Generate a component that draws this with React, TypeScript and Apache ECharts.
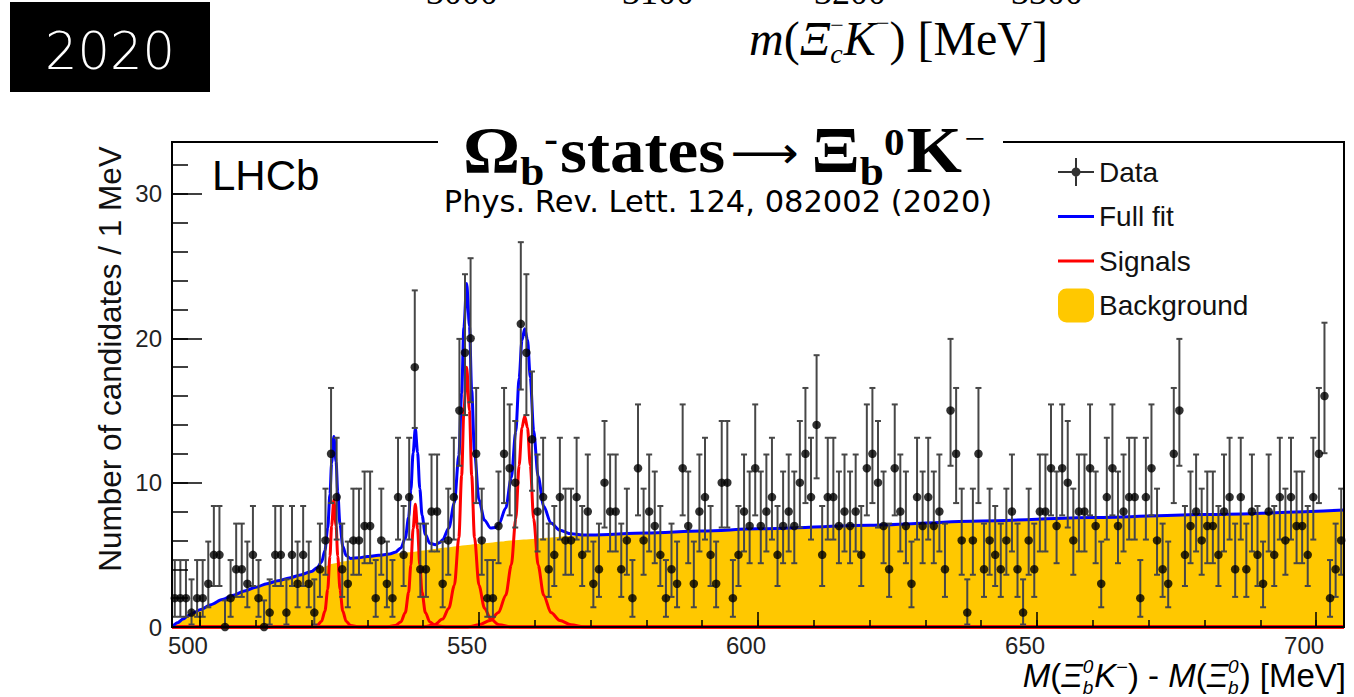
import React, { useEffect, useRef } from 'react';
import * as echarts from 'echarts';

// ---------------- data ----------------
const X_MIN = 495;
const X_MAX = 705;
const Y_MIN = 0;
const Y_MAX = 33.6;
const FIRST_BIN_CENTER = 495.5;
const BIN_WIDTH = 1;

// candidates per 1 MeV bin (bins 495-496 ... 704-705)
const COUNTS = [
  2, 2, 2, 1, 2, 2, 3, 5, 5, 0,
  2, 4, 4, 3, 5, 2, 0, 1, 5, 5,
  1, 5, 3, 5, 3, 1, 4, 6, 12, 9,
  4, 3, 6, 6, 7, 7, 2, 6, 3, 2,
  9, 5, 9, 18, 4, 4, 8, 8, 3, 6,
  9, 15, 19, 20, 12, 6, 2, 2, 7, 12,
  11, 10, 21, 19, 13, 8, 9, 4, 5, 9,
  6, 6, 9, 5, 8, 3, 4, 10, 8, 8,
  4, 6, 2, 11, 6, 8, 7, 5, 2, 4,
  3, 11, 7, 3, 8, 9, 5, 3, 10, 10,
  2, 5, 8, 7, 11, 7, 8, 9, 5, 7,
  8, 7, 10, 12, 9, 14, 5, 9, 9, 7,
  8, 7, 8, 5, 11, 12, 10, 7, 4, 11,
  8, 7, 3, 9, 7, 9, 7, 8, 4, 15,
  12, 6, 1, 6, 12, 4, 6, 5, 4, 6,
  8, 4, 1, 6, 4, 8, 8, 11, 7, 11,
  10, 6, 8, 8, 11, 7, 3, 9, 11, 7,
  8, 9, 9, 2, 9, 11, 6, 4, 3, 12,
  15, 5, 7, 8, 6, 7, 7, 5, 8, 9,
  4, 9, 4, 8, 5, 3, 8, 5, 9, 6,
  9, 7, 7, 5, 9, 12, 16, 2, 4, 6,
];

// 68% Poisson (Garwood) intervals for n = 0..21
const POISSON_LOW = [0, 0.173, 0.708, 1.367, 2.086, 2.84, 3.62, 4.419, 5.232, 6.057, 6.891, 7.734, 8.585, 9.441, 10.3, 11.17, 12.04, 12.92, 13.79, 14.68, 15.57, 16.45];
const POISSON_HIGH = [1.841, 3.3, 4.638, 5.918, 7.163, 8.382, 9.584, 10.77, 11.95, 13.11, 14.27, 15.42, 16.56, 17.7, 18.83, 19.96, 21.08, 22.2, 23.32, 24.44, 25.55, 26.66];

const BACKGROUND = [
  [495, 0], [496, 0.3], [497, 0.55], [498, 0.8], [499, 1.0], [500, 1.2], [502, 1.55], [504, 1.9],
  [506, 2.2], [508, 2.5], [510, 2.75], [512, 3.0], [514, 3.2], [516, 3.4], [518, 3.6], [520, 3.85],
  [522, 4.15], [524, 4.4], [526, 4.55], [528, 4.75], [530, 4.88], [532, 4.97], [534, 5.05], [536, 5.12],
  [538, 5.2], [540, 5.3], [542, 5.4], [544, 5.5], [546, 5.6], [548, 5.68], [550, 5.76], [552, 5.84],
  [554, 5.92], [556, 6.0], [558, 6.06], [560, 6.12], [562, 6.18], [564, 6.24], [566, 6.3], [570, 6.38],
  [580, 6.52], [590, 6.65], [600, 6.8], [620, 7.05], [640, 7.35], [660, 7.58], [680, 7.8], [705, 8.1],
];

const FULL_FIT = [
  [495, 0], [496, 0.3], [497, 0.55], [498, 0.8], [499, 1.0], [500, 1.2], [502, 1.55], [504, 1.9],
  [506, 2.2], [508, 2.5], [510, 2.75], [512, 3.0], [514, 3.2], [516, 3.4], [518, 3.6], [520, 3.85],
  [521, 4.1], [521.8, 4.5], [522.4, 5.3], [522.9, 6.85], [523.3, 9.2], [523.6, 11.35], [524.0, 13.2],
  [524.4, 11.45], [524.7, 9.35], [525.1, 7.1], [525.6, 5.6], [526.2, 4.95], [527, 4.75], [528.5, 4.8],
  [530, 4.88], [532, 4.97], [534, 5.05], [535, 5.18], [536, 5.47], [536.8, 6.15], [537.4, 7.6],
  [537.8, 9.5], [538.2, 12.05], [538.6, 13.75], [539.0, 12.1], [539.4, 9.6], [539.8, 7.75], [540.4, 6.4],
  [541.2, 5.8], [542.2, 5.7], [543, 5.85], [543.5, 6.05], [544.6, 6.85], [545.6, 8.6], [546.4, 11.9],
  [546.9, 16.2], [547.3, 20.75], [547.8, 23.8], [548.3, 20.85], [548.7, 16.4], [549.2, 12.15], [550.0, 8.8],
  [551.0, 7.4], [552.1, 6.85], [553.0, 6.9], [553.6, 7.15], [554.8, 8.25], [555.8, 10.35], [556.6, 13.55],
  [557.2, 17.25], [557.7, 19.85], [558.2, 20.67], [558.7, 19.9], [559.2, 17.3], [559.8, 13.6], [560.6, 10.44],
  [561.6, 8.37], [562.9, 7.2], [564.5, 6.7], [566.5, 6.46], [569, 6.37], [570, 6.38], [580, 6.52],
  [590, 6.65], [600, 6.8], [620, 7.05], [640, 7.35], [660, 7.58], [680, 7.8], [705, 8.1],
];

const SIGNAL_1 = [
  [495, 0], [519.5, 0], [521, 0.1], [521.8, 0.4], [522.4, 1.1], [522.9, 2.6], [523.3, 4.9], [523.6, 7.0],
  [524.0, 8.8], [524.4, 7.0], [524.7, 4.9], [525.1, 2.6], [525.6, 1.1], [526.2, 0.4], [527, 0.1], [528.5, 0], [705, 0],
];
const SIGNAL_2 = [
  [495, 0], [533.5, 0], [535, 0.1], [536, 0.35], [536.8, 1.0], [537.4, 2.4], [537.8, 4.3], [538.2, 6.8],
  [538.6, 8.5], [539.0, 6.8], [539.4, 4.3], [539.8, 2.4], [540.4, 1.0], [541.2, 0.35], [542.2, 0.1], [544, 0], [705, 0],
];
const SIGNAL_3 = [
  [495, 0], [540, 0], [542, 0.15], [543.5, 0.55], [544.6, 1.3], [545.6, 2.9], [546.4, 6.2], [546.9, 10.5],
  [547.3, 15.0], [547.8, 18.0], [548.3, 15.0], [548.7, 10.5], [549.2, 6.2], [550.0, 2.9], [551.0, 1.3],
  [552.1, 0.55], [553.6, 0.15], [556, 0], [705, 0],
];
const SIGNAL_4 = [
  [495, 0], [548, 0], [550, 0.15], [552, 0.45], [553.5, 1.0], [554.8, 2.2], [555.8, 4.3], [556.6, 7.5],
  [557.2, 11.2], [557.7, 13.8], [558.2, 14.6], [558.7, 13.8], [559.2, 11.2], [559.8, 7.5], [560.6, 4.3],
  [561.6, 2.2], [562.9, 1.0], [564.5, 0.45], [566.5, 0.15], [569, 0], [705, 0],
];
const SIGNALS = [SIGNAL_1, SIGNAL_2, SIGNAL_3, SIGNAL_4];

const X_LABELS = [500, 550, 600, 650, 700];
const X_MAJOR_TICKS = [500, 550, 600, 650, 700];
const X_MINOR_TICKS = [500, 510, 520, 530, 540, 550, 560, 570, 580, 590, 600, 610, 620, 630, 640, 650, 660, 670, 680, 690, 700];
const Y_LABELS = [0, 10, 20, 30];
const Y_MAJOR_TICKS = [0, 10, 20, 30];
const Y_MINOR_TICKS = [0, 2, 4, 6, 8, 10, 12, 14, 16, 18, 20, 22, 24, 26, 28, 30, 32];

const LEGEND_NAMES = ['Data', 'Full fit', 'Signals', 'Background'];
const TOP_AXIS_LABELS = ['3000', '3100', '3200', '3300'];

// ---------------- layout / style ----------------
const W = 1354;
const H = 697;
const GRID = { left: 172, top: 142, width: 1172, height: 485 };
const SANS = 'Liberation Sans';
const SERIF = 'Liberation Serif';
const YELLOW = '#FFC800';

type Frag = {
  t: string; size: number; family: string; weight?: string; italic?: boolean;
  dy?: number; dx?: number; stack?: boolean; color?: string;
};

let measureCtx: CanvasRenderingContext2D | null = null;
function fontOf(f: Frag) {
  return `${f.italic ? 'italic' : 'normal'} ${f.weight || 'normal'} ${f.size}px '${f.family}'`;
}
function richLine(
  frags: Frag[], anchorX: number, baseY: number, align: 'left' | 'center' | 'right', z: number, scaleX = 1,
) {
  if (!measureCtx) measureCtx = document.createElement('canvas').getContext('2d');
  const ctx = measureCtx!;
  let cursor = 0;
  let pending = 0;
  const items: { x: number; y: number; f: Frag }[] = [];
  for (const f of frags) {
    ctx.font = fontOf(f);
    const m = ctx.measureText(f.t);
    const asc = (m as any).fontBoundingBoxAscent ?? f.size * 0.9;
    const desc = (m as any).fontBoundingBoxDescent ?? f.size * 0.21;
    cursor += f.dx || 0;
    items.push({ x: cursor, y: baseY + (f.dy || 0) - (asc - desc) / 2, f });
    if (f.stack) pending = m.width;
    else { cursor += Math.max(m.width, pending); pending = 0; }
  }
  const total = cursor;
  const off = align === 'left' ? 0 : align === 'center' ? -total / 2 : -total;
  return {
    type: 'group', x: anchorX, y: 0, scaleX, z, silent: true,
    children: items.map((it) => ({
      type: 'text', x: off + it.x, y: it.y, z, silent: true,
      style: {
        text: it.f.t, font: fontOf(it.f), fill: it.f.color || '#000',
        textAlign: 'left', textVerticalAlign: 'middle', align: 'left', verticalAlign: 'middle',
      },
    })),
  };
}

const DATA_ICON = 'path://M0,0h0.05v0.05h-0.05z M35.95,33.95h0.05v0.05h-0.05z M0,16h36v2h-36z M17,3h2v28h-2z M13.5,17a4.5,4.5 0 1,1 9,0a4.5,4.5 0 1,1 -9,0z';
const LINE_ICON = 'path://M0,0h0.05v0.05h-0.05z M35.95,33.95h0.05v0.05h-0.05z M0,15.5h36v3h-36z';

function buildOption() {
  const dataPoints = COUNTS.map((c, i) => [FIRST_BIN_CENTER + i * BIN_WIDTH, c]);
  const errBars = COUNTS.map((c, i) => [FIRST_BIN_CENTER + i * BIN_WIDTH, POISSON_LOW[c], POISSON_HIGH[c]]);

  const titleFrags: Frag[] = [
    { t: 'Ω', size: 66, family: SERIF, weight: 'bold' },
    { t: 'b', size: 40, family: SERIF, weight: 'bold', dy: 13 },
    { t: '-', size: 38, family: SERIF, weight: 'bold', dy: -20 },
    { t: 'states', size: 64, family: SERIF, weight: 'bold', dx: 2 },
    { t: '⟶', size: 44, family: 'DejaVu Sans', dx: 5, dy: -4 },
    { t: 'Ξ', size: 66, family: SERIF, weight: 'bold', dx: 12 },
    { t: 'b', size: 40, family: SERIF, weight: 'bold', dy: 13 },
    { t: '0', size: 38, family: SERIF, weight: 'bold', dy: -16 },
    { t: 'K', size: 66, family: SERIF, weight: 'bold', dx: 2 },
    { t: '−', size: 34, family: SERIF, dy: -22, dx: 2 },
  ];
  const xTitle: Frag[] = [
    { t: 'M', size: 33, family: SANS, italic: true },
    { t: '(', size: 33, family: SANS },
    { t: 'Ξ', size: 33, family: SANS, italic: true },
    { t: '0', size: 19, family: SANS, italic: true, dy: -14, stack: true },
    { t: 'b', size: 19, family: SANS, italic: true, dy: 7 },
    { t: 'K', size: 33, family: SANS, italic: true, dx: 1 },
    { t: '−', size: 20, family: SANS, dy: -13 },
    { t: ') - ', size: 33, family: SANS },
    { t: 'M', size: 33, family: SANS, italic: true },
    { t: '(', size: 33, family: SANS },
    { t: 'Ξ', size: 33, family: SANS, italic: true },
    { t: '0', size: 19, family: SANS, italic: true, dy: -14, stack: true },
    { t: 'b', size: 19, family: SANS, italic: true, dy: 7 },
    { t: ') [MeV]', size: 33, family: SANS, dx: 1 },
  ];
  const topTitle: Frag[] = [
    { t: 'm', size: 48, family: SERIF, italic: true },
    { t: '(', size: 48, family: SERIF },
    { t: 'Ξ', size: 48, family: SERIF, italic: true },
    { t: '−', size: 24, family: SERIF, dy: -22, stack: true },
    { t: 'c', size: 28, family: SERIF, italic: true, dy: 8 },
    { t: 'K', size: 48, family: SERIF, italic: true },
    { t: '−', size: 24, family: SERIF, dy: -24 },
    { t: ') [MeV]', size: 48, family: SERIF },
  ];

  const graphic: any[] = [
    // frame
    {
      type: 'rect', z: 50, silent: true,
      shape: { x: GRID.left, y: GRID.top, width: GRID.width, height: GRID.height },
      style: { fill: 'none', stroke: '#000', lineWidth: 2 },
    },
    // white box behind the title
    { type: 'rect', z: 60, silent: true, shape: { x: 438, y: 128, width: 565, height: 28 }, style: { fill: '#fff' } },
    richLine(titleFrags, 724, 172, 'center', 61, 1.08),
    richLine([{ t: 'Phys. Rev. Lett. 124, 082002 (2020)', size: 30.5, family: 'DejaVu Sans' }], 718, 212, 'center', 61),
    richLine([{ t: 'LHCb', size: 42, family: SANS }], 212, 190, 'left', 61),
    richLine(xTitle, 1346, 687, 'right', 61),
    {
      type: 'text', z: 61, silent: true, x: 110, y: 359, rotation: Math.PI / 2,
      style: {
        text: 'Number of candidates / 1 MeV', font: `normal normal 31.5px '${SANS}'`, fill: '#111',
        textAlign: 'center', textVerticalAlign: 'middle', align: 'center', verticalAlign: 'middle',
      },
    },
    // year tag
    { type: 'rect', z: 61, silent: true, shape: { x: 10, y: 2, width: 200, height: 90 }, style: { fill: '#000' } },
    {
      type: 'text', z: 62, silent: true, x: 110, y: 51,
      style: {
        text: '2020', font: `normal 200 51px 'DejaVu Sans'`, fill: '#fff',
        textAlign: 'center', textVerticalAlign: 'middle', align: 'center', verticalAlign: 'middle',
      },
    },
    // cut-off neighbouring plot at the top
    richLine(topTitle, 749, 55, 'left', 61),
    ...TOP_AXIS_LABELS.map((t, i) =>
      richLine([{ t, size: 36, family: SERIF }], [462, 658, 850, 1047][i], 4, 'center', 61)),
  ];

  const signalSeries = SIGNALS.map((s) => ({
    name: 'Signals', type: 'line', data: s, showSymbol: false, symbol: 'none',
    smooth: 0.3, smoothMonotone: 'x', clip: false, z: 3,
    color: '#FF0000', lineStyle: { color: '#FF0000', width: 3 },
  }));

  return {
    animation: false,
    backgroundColor: '#fff',
    grid: { left: GRID.left, top: GRID.top, width: GRID.width, height: GRID.height, containLabel: false },
    legend: {
      orient: 'vertical', left: 1058, top: 155, padding: 0,
      itemWidth: 36, itemHeight: 34, itemGap: 10.5,
      selectedMode: false,
      itemStyle: { borderWidth: 0 },
      textStyle: { fontFamily: SANS, fontSize: 28, color: '#111' },
      data: [
        { name: LEGEND_NAMES[0], icon: DATA_ICON },
        { name: LEGEND_NAMES[1], icon: LINE_ICON },
        { name: LEGEND_NAMES[2], icon: LINE_ICON },
        { name: LEGEND_NAMES[3], icon: 'roundRect' },
      ],
    },
    xAxis: [
      {
        type: 'value', min: X_MIN, max: X_MAX, position: 'bottom', z: 10,
        axisLine: { show: true, onZero: false, lineStyle: { color: '#000', width: 2 } },
        axisTick: { show: true, inside: true, length: 15, customValues: X_MAJOR_TICKS, lineStyle: { color: '#000', width: 1.5 } },
        axisLabel: {
          show: true, customValues: X_LABELS, fontFamily: SANS, fontSize: 24, color: '#222',
          margin: 6, padding: [0, 24, 0, 0],
        },
        splitLine: { show: false },
      },
      {
        type: 'value', min: X_MIN, max: X_MAX, position: 'bottom', z: 10,
        axisLine: { show: false, onZero: false },
        axisTick: { show: true, inside: true, length: 7, customValues: X_MINOR_TICKS, lineStyle: { color: '#000', width: 1.5 } },
        axisLabel: { show: false },
        splitLine: { show: false },
      },
    ],
    yAxis: [
      {
        type: 'value', min: Y_MIN, max: Y_MAX, position: 'left', z: 10,
        axisLine: { show: true, onZero: false, lineStyle: { color: '#000', width: 2 } },
        axisTick: { show: true, inside: true, length: 30, customValues: Y_MAJOR_TICKS, lineStyle: { color: '#000', width: 1.5 } },
        axisLabel: { show: true, customValues: Y_LABELS, fontFamily: SANS, fontSize: 24, color: '#222', margin: 10 },
        splitLine: { show: false },
      },
      {
        type: 'value', min: Y_MIN, max: Y_MAX, position: 'left', z: 10,
        axisLine: { show: false, onZero: false },
        axisTick: { show: true, inside: true, length: 16, customValues: Y_MINOR_TICKS, lineStyle: { color: '#000', width: 1.5 } },
        axisLabel: { show: false },
        splitLine: { show: false },
      },
    ],
    series: [
      {
        name: 'Background', type: 'line', data: BACKGROUND, showSymbol: false, symbol: 'none',
        smooth: 0.3, smoothMonotone: 'x', z: 1, color: YELLOW,
        lineStyle: { width: 0, color: YELLOW }, areaStyle: { color: YELLOW, opacity: 1 },
      },
      ...signalSeries,
      {
        name: 'Full fit', type: 'line', data: FULL_FIT, showSymbol: false, symbol: 'none',
        smooth: 0.3, smoothMonotone: 'x', z: 4, color: '#0000FF',
        lineStyle: { color: '#0000FF', width: 3 },
      },
      {
        name: 'Data errors', type: 'custom', z: 5, data: errBars,
        encode: { x: 0, y: [1, 2] },
        renderItem: (_params: any, api: any) => {
          const x = api.value(0);
          const lo = api.coord([x, api.value(1)]);
          const hi = api.coord([x, api.value(2)]);
          const cap = 3;
          const style = { stroke: '#474747', lineWidth: 2 };
          return {
            type: 'group',
            children: [
              { type: 'line', shape: { x1: lo[0], y1: lo[1], x2: hi[0], y2: hi[1] }, style },
              { type: 'line', shape: { x1: hi[0] - cap, y1: hi[1], x2: hi[0] + cap, y2: hi[1] }, style },
              { type: 'line', shape: { x1: lo[0] - cap, y1: lo[1], x2: lo[0] + cap, y2: lo[1] }, style },
            ],
          };
        },
      },
      {
        name: 'Data', type: 'scatter', data: dataPoints, symbol: 'circle', symbolSize: 8.5, z: 6,
        color: '#000', itemStyle: { color: '#000' }, clip: false,
      },
    ],
    graphic,
  };
}

export default function App() {
  const ref = useRef<HTMLDivElement>(null);
  useEffect(() => {
    const chart = echarts.init(ref.current!, null, { renderer: 'svg' });
    chart.setOption(buildOption() as any);
    return () => chart.dispose();
  }, []);
  return (
    <div
      ref={ref}
      style={{ position: 'fixed', left: 0, top: 0, width: W, height: H, background: '#fff' }}
    />
  );
}
